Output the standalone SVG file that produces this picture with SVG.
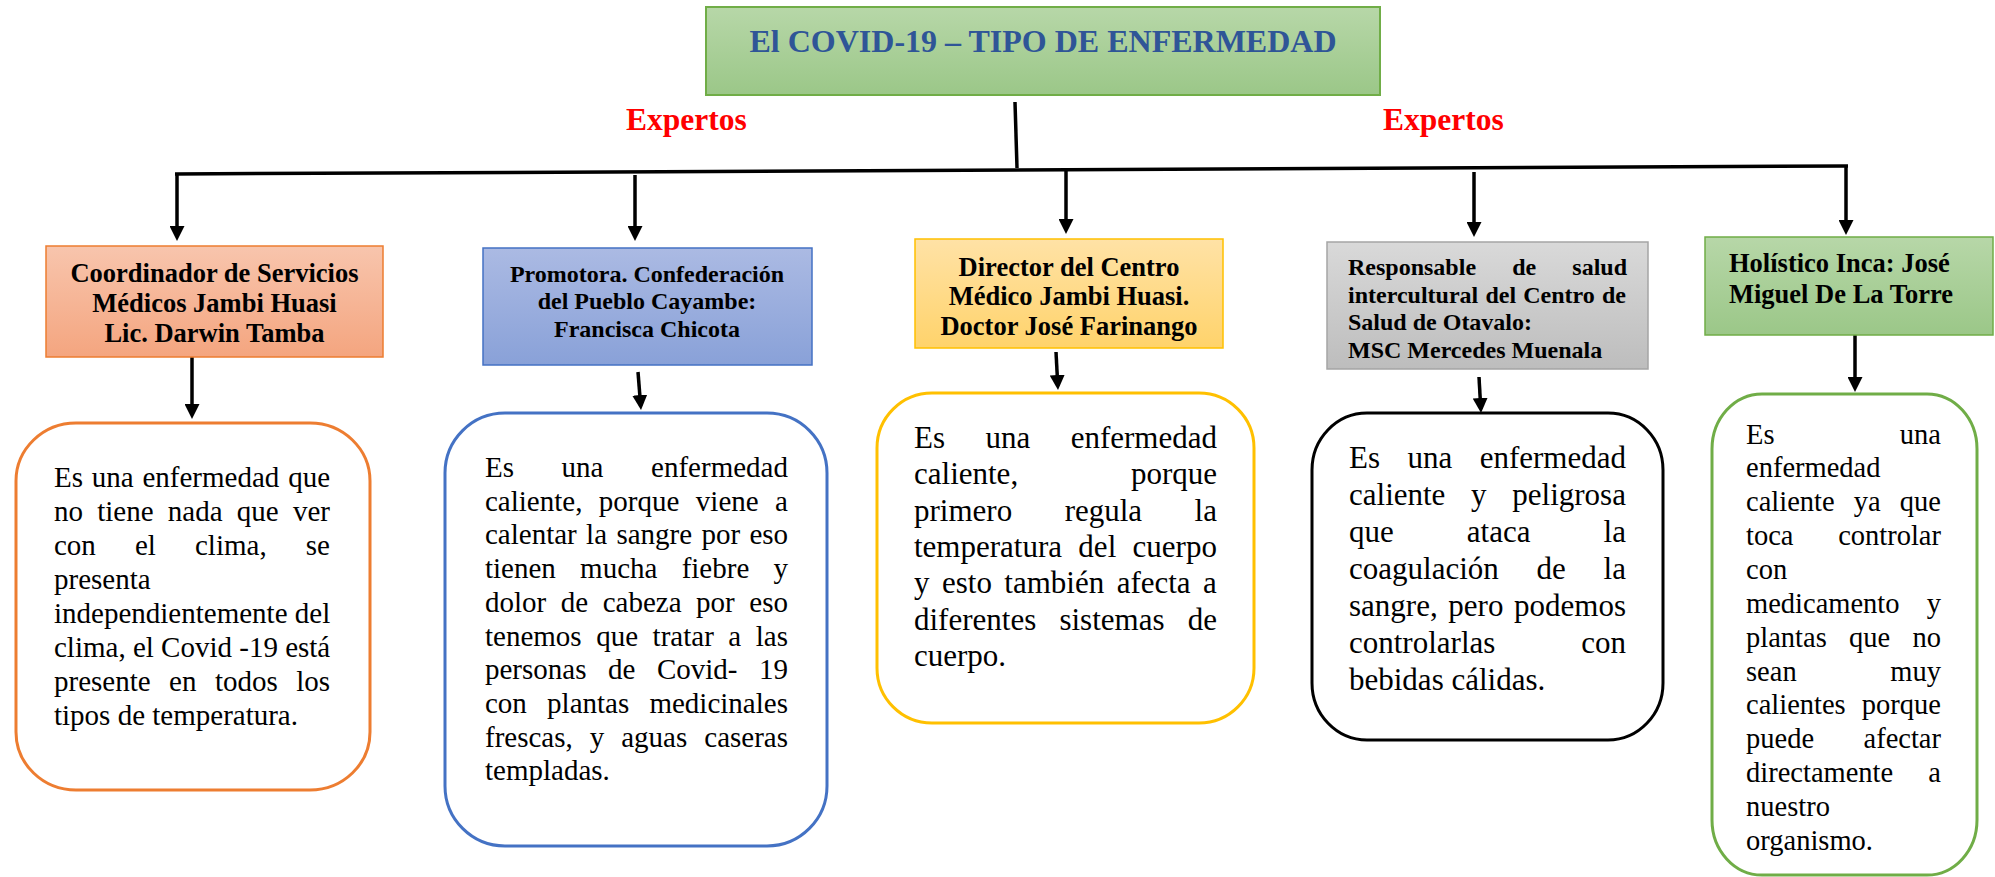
<svg xmlns="http://www.w3.org/2000/svg" width="1995" height="877" viewBox="0 0 1995 877">
<defs>
<linearGradient id="gOrange" x1="0" y1="0" x2="0" y2="1"><stop offset="0" stop-color="#F8C5AD"/><stop offset="1" stop-color="#F4A57F"/></linearGradient>
<linearGradient id="gBlue" x1="0" y1="0" x2="0" y2="1"><stop offset="0" stop-color="#ABBAE3"/><stop offset="1" stop-color="#89A1D8"/></linearGradient>
<linearGradient id="gYellow" x1="0" y1="0" x2="0" y2="1"><stop offset="0" stop-color="#FFE2A6"/><stop offset="1" stop-color="#FFD36B"/></linearGradient>
<linearGradient id="gGray" x1="0" y1="0" x2="0" y2="1"><stop offset="0" stop-color="#D9D9D9"/><stop offset="1" stop-color="#BDBDBD"/></linearGradient>
<linearGradient id="gGreen" x1="0" y1="0" x2="0" y2="1"><stop offset="0" stop-color="#B7D7A8"/><stop offset="1" stop-color="#9BC788"/></linearGradient>
<marker id="arr" markerUnits="userSpaceOnUse" markerWidth="15" markerHeight="15" viewBox="0 0 15 15" refX="11" refY="7.5" orient="auto"><path d="M0,0 L15,7.5 L0,15 z" fill="#000"/></marker>
</defs>
<style>
.hdr{font-family:"Liberation Serif","Times New Roman",serif;font-weight:bold;fill:#000}
.c{text-anchor:middle}
.b{font-family:"Liberation Serif","Times New Roman",serif;fill:#000}
.e{text-anchor:end}
.f29{font-size:29px}
.f31{font-size:31px}
.f285{font-size:28.5px}
.conn{stroke:#000;stroke-width:3.5;fill:none}
.rb{fill:#fff;stroke-width:3}
</style>
<rect width="1995" height="877" fill="#fff"/>

<g id="connectors">
<path class="conn" d="M1015,102 L1017,168"/>
<path class="conn" stroke-width="4" d="M175,174 L1848,166"/>
<path class="conn" marker-end="url(#arr)" d="M177,174 L177,237"/>
<path class="conn" marker-end="url(#arr)" d="M635,175 L635,237"/>
<path class="conn" marker-end="url(#arr)" d="M1066,170 L1066,230"/>
<path class="conn" marker-end="url(#arr)" d="M1474,172 L1474,233"/>
<path class="conn" marker-end="url(#arr)" d="M1846,166 L1846,231"/>
<path class="conn" marker-end="url(#arr)" d="M192,357 L192,415"/>
<path class="conn" marker-end="url(#arr)" d="M638,372 L640.7,406"/>
<path class="conn" marker-end="url(#arr)" d="M1056,352 L1057.8,386"/>
<path class="conn" marker-end="url(#arr)" d="M1479,377 L1480.8,409"/>
<path class="conn" marker-end="url(#arr)" d="M1855,335 L1855,388"/>
</g>

<g id="title">
<rect x="706" y="7" width="674" height="88" fill="url(#gGreen)" stroke="#70AD47" stroke-width="2"/>
<text class="hdr c" x="1043" y="52" font-size="32" fill="#2F5597" style="fill:#2F5597">El COVID-19 – TIPO DE ENFERMEDAD</text>
</g>

<g id="label-expertos-left">
<text class="hdr" x="626" y="130" font-size="31.5" style="fill:#FF0000">Expertos</text>
</g>
<g id="label-expertos-right">
<text class="hdr" x="1383" y="130" font-size="31.5" style="fill:#FF0000">Expertos</text>
</g>

<g id="expert1">
<rect x="46" y="246" width="337" height="111" fill="url(#gOrange)" stroke="#ED7D31" stroke-width="1.5"/>
<text class="hdr c" font-size="26.5" x="214.5" y="282">Coordinador de Servicios</text>
<text class="hdr c" font-size="26.5" x="214.5" y="312">Médicos Jambi Huasi</text>
<text class="hdr c" font-size="26.5" x="214.5" y="342">Lic. Darwin Tamba</text>
</g>

<g id="expert2">
<rect x="483" y="248" width="329" height="117" fill="url(#gBlue)" stroke="#4472C4" stroke-width="1.5"/>
<text class="hdr c" font-size="24" x="647" y="282">Promotora. Confederación</text>
<text class="hdr c" font-size="24" x="647" y="308.5">del Pueblo Cayambe:</text>
<text class="hdr c" font-size="24" x="647" y="336.5">Francisca Chicota</text>
</g>

<g id="expert3">
<rect x="915" y="239" width="308" height="109" fill="url(#gYellow)" stroke="#FFC000" stroke-width="1.5"/>
<text class="hdr c" font-size="26.5" x="1069" y="276">Director del Centro</text>
<text class="hdr c" font-size="26.5" x="1069" y="305">Médico Jambi Huasi.</text>
<text class="hdr c" font-size="26.5" x="1069" y="335">Doctor José Farinango</text>
</g>

<g id="expert4">
<rect x="1327" y="242" width="321" height="127" fill="url(#gGray)" stroke="#A5A5A5" stroke-width="1.5"/>
<text class="hdr" font-size="24" x="1348" y="275" word-spacing="30.15">Responsable de salud</text>
<text class="hdr" font-size="24" x="1348" y="303" word-spacing="1.2">intercultural del Centro de</text>
<text class="hdr" font-size="24" x="1348" y="330">Salud de Otavalo:</text>
<text class="hdr" font-size="24" x="1348" y="358">MSC Mercedes Muenala</text>
</g>

<g id="expert5">
<rect x="1705" y="237" width="288" height="98" fill="url(#gGreen)" stroke="#70AD47" stroke-width="1.5"/>
<text class="hdr" font-size="26.5" x="1729" y="272">Holístico Inca: José</text>
<text class="hdr" font-size="26.5" x="1729" y="303">Miguel De La Torre</text>
</g>

<g id="opinion1">
<rect class="rb" x="16" y="423" width="354" height="367" rx="60" ry="58" stroke="#ED7D31"/>
<text class="b f29" x="54" y="487" word-spacing="1.55">Es una enfermedad que</text>
<text class="b f29" x="54" y="521" word-spacing="7">no tiene nada que ver</text>
<text class="b f29" x="54" y="555" word-spacing="31.85">con el clima, se</text>
<text class="b f29" x="54" y="589">presenta</text>
<text class="b f29" x="54" y="623">independientemente del</text>
<text class="b f29" x="54" y="657">clima, el Covid -19 está</text>
<text class="b f29" x="54" y="691" word-spacing="11.2">presente en todos los</text>
<text class="b f29" x="54" y="725">tipos de temperatura.</text>
</g>

<g id="opinion2">
<rect class="rb" x="445" y="413" width="382" height="433" rx="60" ry="60" stroke="#4472C4"/>
<text class="b f29" x="485" y="477" word-spacing="40.35">Es una enfermedad</text>
<text class="b f29" x="485" y="510.7" word-spacing="9.2">caliente, porque viene a</text>
<text class="b f29" x="485" y="544.4" word-spacing="2.1">calentar la sangre por eso</text>
<text class="b f29" x="485" y="578.1" word-spacing="17">tienen mucha fiebre y</text>
<text class="b f29" x="485" y="611.8" word-spacing="7.3">dolor de cabeza por eso</text>
<text class="b f29" x="485" y="645.5" word-spacing="7.3">tenemos que tratar a las</text>
<text class="b f29" x="485" y="679.2" word-spacing="14.3">personas de Covid- 19</text>
<text class="b f29" x="485" y="712.9" word-spacing="12.95">con plantas medicinales</text>
<text class="b f29" x="485" y="746.6" word-spacing="9.75">frescas, y aguas caseras</text>
<text class="b f29" x="485" y="780.3">templadas.</text>
</g>

<g id="opinion3">
<rect class="rb" x="877" y="393" width="377" height="330" rx="55" ry="55" stroke="#FFC000"/>
<text class="b f31" x="914" y="448" word-spacing="32.7">Es una enfermedad</text>
<text class="b f31" x="914" y="484.3">caliente,</text>
<text class="b f31 e" x="1217" y="484.3">porque</text>
<text class="b f31" x="914" y="520.6" word-spacing="44.75">primero regula la</text>
<text class="b f31" x="914" y="556.9" word-spacing="8.6">temperatura del cuerpo</text>
<text class="b f31" x="914" y="593.2" word-spacing="4.7">y esto también afecta a</text>
<text class="b f31" x="914" y="629.5" word-spacing="15.45">diferentes sistemas de</text>
<text class="b f31" x="914" y="665.8">cuerpo.</text>
</g>

<g id="opinion4">
<rect class="rb" x="1312" y="413" width="351" height="327" rx="55" ry="57" stroke="#000"/>
<text class="b f31" x="1349" y="468" word-spacing="19.7">Es una enfermedad</text>
<text class="b f31" x="1349" y="505" word-spacing="17.95">caliente y peligrosa</text>
<text class="b f31" x="1349" y="542" word-spacing="65.35">que ataca la</text>
<text class="b f31" x="1349" y="579" word-spacing="30.05">coagulación de la</text>
<text class="b f31" x="1349" y="616" word-spacing="2.9">sangre, pero podemos</text>
<text class="b f31" x="1349" y="653">controlarlas</text>
<text class="b f31 e" x="1626" y="653">con</text>
<text class="b f31" x="1349" y="690">bebidas cálidas.</text>
</g>

<g id="opinion5">
<rect class="rb" x="1712" y="394" width="265" height="481" rx="50" ry="55" stroke="#70AD47"/>
<text class="b f285" x="1746" y="443.5">Es</text>
<text class="b f285 e" x="1941" y="443.5">una</text>
<text class="b f285" x="1746" y="477.4">enfermedad</text>
<text class="b f285" x="1746" y="511.2" word-spacing="12">caliente ya que</text>
<text class="b f285" x="1746" y="545.1">toca</text>
<text class="b f285 e" x="1941" y="545.1">controlar</text>
<text class="b f285" x="1746" y="578.9">con</text>
<text class="b f285" x="1746" y="612.8">medicamento</text>
<text class="b f285 e" x="1941" y="612.8">y</text>
<text class="b f285" x="1746" y="646.6" word-spacing="15.2">plantas que no</text>
<text class="b f285" x="1746" y="680.5">sean</text>
<text class="b f285 e" x="1941" y="680.5">muy</text>
<text class="b f285" x="1746" y="714.3">calientes</text>
<text class="b f285 e" x="1941" y="714.3">porque</text>
<text class="b f285" x="1746" y="748.2">puede</text>
<text class="b f285 e" x="1941" y="748.2">afectar</text>
<text class="b f285" x="1746" y="782">directamente</text>
<text class="b f285 e" x="1941" y="782">a</text>
<text class="b f285" x="1746" y="815.9">nuestro</text>
<text class="b f285" x="1746" y="849.7">organismo.</text>
</g>
</svg>
